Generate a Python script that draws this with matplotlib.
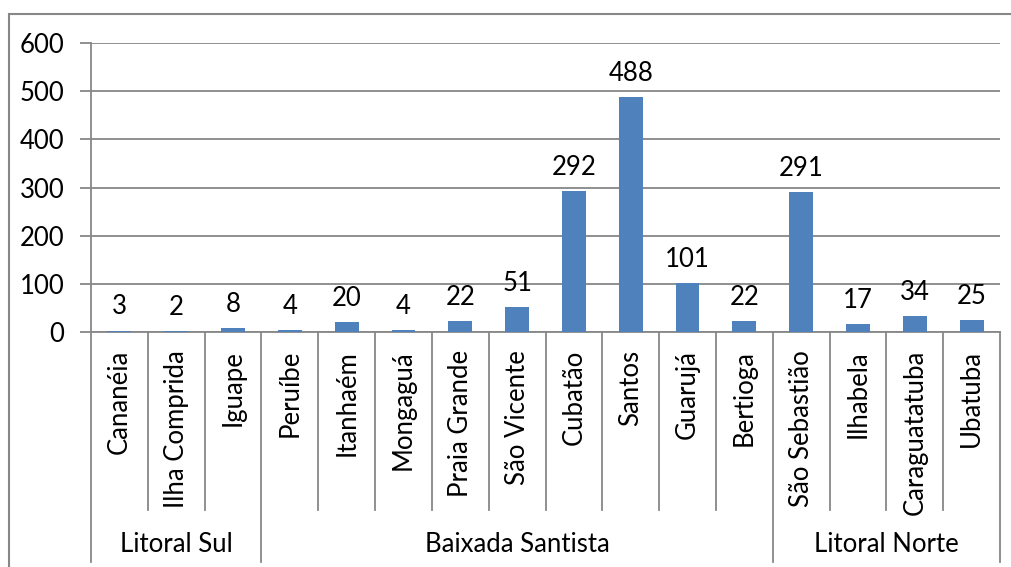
import matplotlib.pyplot as plt
import matplotlib.transforms as mtransforms
from matplotlib.patches import Rectangle

cidades = ['Cananéia', 'Ilha Comprida', 'Iguape', 'Peruíbe', 'Itanhaém', 'Mongaguá',
           'Praia Grande', 'São Vicente', 'Cubatão', 'Santos', 'Guarujá', 'Bertioga',
           'São Sebastião', 'Ilhabela', 'Caraguatatuba', 'Ubatuba']
valores = [3, 2, 8, 4, 20, 4, 22, 51, 292, 488, 101, 22, 291, 17, 34, 25]
regioes = ['Litoral Sul', 'Baixada Santista', 'Litoral Norte']
n_por_regiao = [3, 9, 4]

plt.rcParams['font.family'] = ['Lato', 'DejaVu Sans']
W, H = 1012, 567
fs = 18.5
fig = plt.figure(figsize=(W / 100, H / 100), dpi=100)
ax = fig.add_axes([91 / W, (H - 332) / H, (1000 - 91) / W, (332 - 43) / H])

cinza = '#878787'
x = [i + 0.5 for i in range(len(cidades))]
ax.bar(x, valores, width=0.42, color='#4F81BD', zorder=3)
for xi, v in zip(x, valores):
    ax.annotate(str(v), (xi, v), xytext=(0, 8), textcoords='offset points',
                ha='center', va='bottom', fontsize=fs)

ax.set_xlim(0, len(cidades))
ax.set_ylim(0, 600)
ax.set_yticks(range(0, 601, 100))
ax.yaxis.grid(True, color=cinza, lw=1.3)
ax.set_axisbelow(True)
ax.set_xticks([])
ax.tick_params(axis='y', length=8, width=1.3, color=cinza, labelsize=fs, pad=11)
for s in ['top', 'right']:
    ax.spines[s].set_visible(False)
ax.spines['left'].set_color(cinza)
ax.spines['bottom'].set_color(cinza)
ax.spines['left'].set_linewidth(1.3)
ax.spines['bottom'].set_linewidth(1.3)

# eixo de categorias em dois niveis
tr = mtransforms.blended_transform_factory(ax.transData, fig.transFigure)
y0 = (H - 332) / H
y_cid = (H - 510) / H
y_reg = (H - 562) / H
limites = [0]
for n in n_por_regiao:
    limites.append(limites[-1] + n)
for i in range(len(cidades) + 1):
    yb = y_reg if i in limites else y_cid
    ax.plot([i, i], [y0, yb], transform=tr, color=cinza, lw=1.3, clip_on=False)
for xi, nome in zip(x, cidades):
    ax.text(xi, (H - 350) / H, nome, transform=tr, rotation=90, ha='center', va='top', fontsize=fs)
for k, reg in enumerate(regioes):
    xc = (limites[k] + limites[k + 1]) / 2
    ax.text(xc, (H - 545) / H, reg, transform=tr, ha='center', va='center', fontsize=fs)

# moldura externa
fig.patches.append(Rectangle((9 / W, -0.05), 1.1, (H - 14) / H + 0.05, transform=fig.transFigure,
                             fill=False, edgecolor=cinza, lw=1.5))

fig.savefig('out.png', dpi=100)
